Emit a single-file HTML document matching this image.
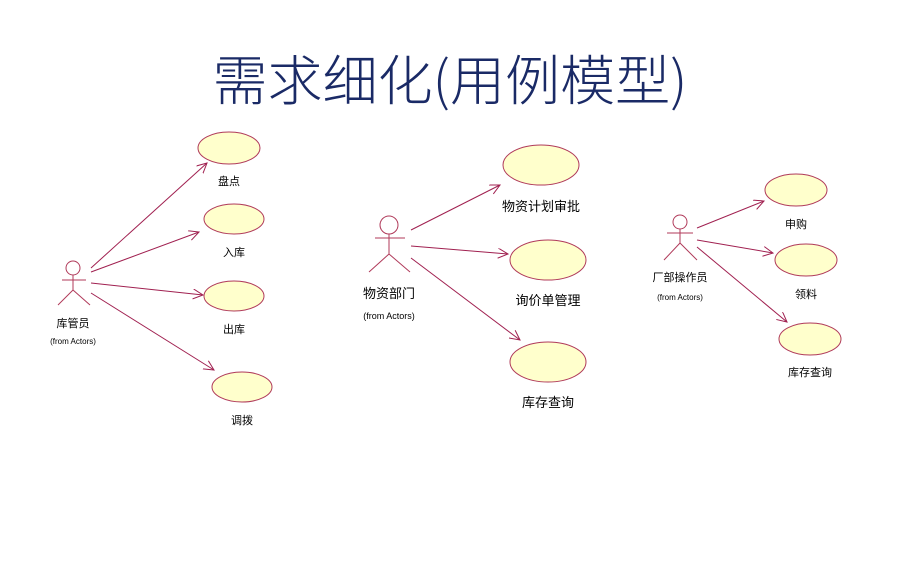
<!DOCTYPE html>
<html><head><meta charset="utf-8"><style>
html,body{margin:0;padding:0;background:#fff;}
svg{display:block;}
.t{font-family:"Liberation Sans","Noto Sans CJK SC",sans-serif;fill:#000;}
</style></head><body>
<svg width="900" height="562" viewBox="0 0 900 562" xmlns="http://www.w3.org/2000/svg">
<defs>
<marker id="a" markerWidth="12" markerHeight="12" refX="10" refY="5" orient="auto" markerUnits="userSpaceOnUse">
<path d="M0,0 L10,5 L0,10" fill="none" stroke="#a02050" stroke-width="1"/>
</marker>
</defs>
<text x="450" y="100" text-anchor="middle" font-size="54" font-weight="300" fill="#1a2a66" textLength="475" lengthAdjust="spacingAndGlyphs" style="font-family:'Noto Sans CJK SC','Liberation Sans',sans-serif">需求细化(用例模型)</text>

<g stroke="#b03a5a" stroke-width="1" fill="none">
<!-- left actor -->
<circle cx="73" cy="268" r="7"/>
<line x1="73" y1="275" x2="73" y2="290"/>
<line x1="62" y1="280" x2="86" y2="280"/>
<line x1="73" y1="290" x2="58" y2="305"/>
<line x1="73" y1="290" x2="90" y2="305"/>
<!-- middle actor -->
<circle cx="389" cy="225" r="9"/>
<line x1="389" y1="234" x2="389" y2="254"/>
<line x1="375" y1="238" x2="405" y2="238"/>
<line x1="389" y1="254" x2="369" y2="272"/>
<line x1="389" y1="254" x2="410" y2="272"/>
<!-- right actor -->
<circle cx="680" cy="222" r="7"/>
<line x1="680" y1="229" x2="680" y2="243"/>
<line x1="667" y1="233" x2="693" y2="233"/>
<line x1="680" y1="243" x2="664" y2="260"/>
<line x1="680" y1="243" x2="697" y2="260"/>
</g>

<g stroke="#a02050" stroke-width="1" fill="none" marker-end="url(#a)">
<line x1="91" y1="268" x2="207" y2="163"/>
<line x1="91" y1="272" x2="199" y2="232"/>
<line x1="91" y1="283" x2="203" y2="295"/>
<line x1="91" y1="293" x2="214" y2="370"/>
<line x1="411" y1="230" x2="500" y2="185"/>
<line x1="411" y1="246" x2="508" y2="254"/>
<line x1="411" y1="258" x2="520" y2="340"/>
<line x1="697" y1="228" x2="764" y2="201"/>
<line x1="697" y1="240" x2="773" y2="253"/>
<line x1="697" y1="247" x2="787" y2="322"/>
</g>

<g fill="#ffffcc" stroke="#b03a5a" stroke-width="1">
<ellipse cx="229" cy="148" rx="31" ry="16"/>
<ellipse cx="234" cy="219" rx="30" ry="15"/>
<ellipse cx="234" cy="296" rx="30" ry="15"/>
<ellipse cx="242" cy="387" rx="30" ry="15"/>
<ellipse cx="541" cy="165" rx="38" ry="20"/>
<ellipse cx="548" cy="260" rx="38" ry="20"/>
<ellipse cx="548" cy="362" rx="38" ry="20"/>
<ellipse cx="796" cy="190" rx="31" ry="16"/>
<ellipse cx="806" cy="260" rx="31" ry="16"/>
<ellipse cx="810" cy="339" rx="31" ry="16"/>
</g>

<g class="t" text-anchor="middle" font-size="11">
<text x="229" y="185">盘点</text>
<text x="234" y="256">入库</text>
<text x="234" y="333">出库</text>
<text x="242" y="424">调拨</text>
<text x="73" y="327">库管员</text>
<text x="73" y="344" font-size="8">(from Actors)</text>
<text x="796" y="228">申购</text>
<text x="806" y="298">领料</text>
<text x="810" y="376">库存查询</text>
<text x="680" y="281">厂部操作员</text>
<text x="680" y="300" font-size="8">(from Actors)</text>
</g>
<g class="t" text-anchor="middle" font-size="13">
<text x="541" y="211">物资计划审批</text>
<text x="548" y="305">询价单管理</text>
<text x="548" y="407">库存查询</text>
<text x="389" y="298">物资部门</text>
<text x="389" y="319" font-size="9">(from Actors)</text>
</g>
</svg>
</body></html>
